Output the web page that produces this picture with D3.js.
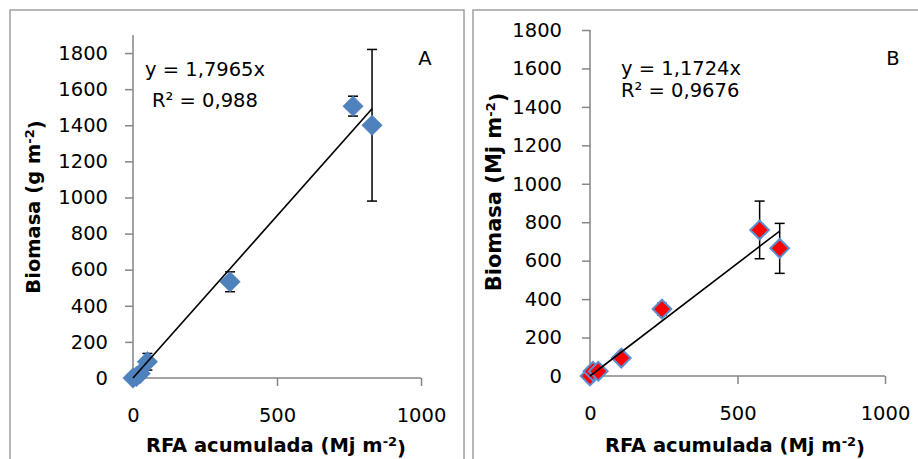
<!DOCTYPE html>
<html>
<head>
<meta charset="utf-8">
<script src="https://cdn.jsdelivr.net/npm/d3@7"></script>
<style>
  html, body { margin: 0; padding: 0; background: #fff; }
  svg { display: block; }
  text { font-family: "DejaVu Sans", sans-serif; fill: #000; }
</style>
</head>
<body>
<svg id="chart" width="918" height="459"></svg>
<script>
// ---- Data ----
const xTicks = [0, 500, 1000];
const yTicks = [0, 200, 400, 600, 800, 1000, 1200, 1400, 1600, 1800];

// Panel A
const rfaA = [0, 12, 25, 50, 337, 764, 830];
const biomasaA = [0, 8, 25, 90, 533, 1506, 1400];
const errA = [0, 0, 0, 46, 55, 55, 420];
const slopeA = 1.7965;
const eqA = "y = 1,7965x";
const r2A = "R² = 0,988";
const tagA = "A";
const yTitleA = "g m";

// Panel B
const rfaB = [0, 10, 28, 106, 244, 575, 643];
const biomasaB = [0, 25, 25, 93, 348, 760, 664];
const errB = [0, 0, 0, 0, 30, 150, 130];
const slopeB = 1.1724;
const eqB = "y = 1,1724x";
const r2B = "R² = 0,9676";
const tagB = "B";
const yTitleB = "Mj m";

const svg = d3.select("#chart");

// panel frames
svg.append("rect").attr("x", 10).attr("y", 10).attr("width", 454).attr("height", 470)
  .attr("fill", "none").attr("stroke", "#a0a0a0").attr("stroke-width", 1.5);
svg.append("rect").attr("x", 473).attr("y", 10).attr("width", 470).attr("height", 470)
  .attr("fill", "none").attr("stroke", "#a0a0a0").attr("stroke-width", 1.5);

function panel(cfg) {
  const g = svg.append("g");
  const x = d3.scaleLinear().domain([0, 1000]).range([cfg.x0, cfg.x1]);
  const y = d3.scaleLinear().domain([0, cfg.ymax]).range([cfg.y0, cfg.y1]);

  // axes
  const xAxis = d3.axisBottom(x).tickValues(xTicks).tickSize(8).tickPadding(cfg.xpad).tickFormat(d3.format("d"));
  const yAxis = d3.axisLeft(y).tickValues(yTicks).tickSize(8).tickPadding(cfg.ypad).tickFormat(d3.format("d"));
  const gx = g.append("g").attr("transform", `translate(0,${cfg.y0})`).call(xAxis);
  const gy = g.append("g").attr("transform", `translate(${cfg.x0},0)`).call(yAxis);
  [gx, gy].forEach(a => {
    a.select(".domain").attr("stroke", "#868686").attr("stroke-width", 1.5);
    a.selectAll(".tick line").attr("stroke", "#868686").attr("stroke-width", 1.5);
    a.selectAll(".tick text").style("font-family", "'DejaVu Sans', sans-serif").style("font-size", "19.5px").attr("fill", "#000");
  });
  gy.select(".domain").attr("d", `M0,${cfg.y1}V${cfg.y0}`);
  gx.select(".domain").attr("d", `M${cfg.x0},0H${cfg.x1}`);

  const pts = cfg.xs.map((v, i) => ({ x: v, y: cfg.ys[i], e: cfg.es[i] }));

  // error bars
  const eb = g.append("g").attr("stroke", "#000").attr("stroke-width", 1.5);
  pts.filter(p => p.e > 0).forEach(p => {
    const cx = x(p.x);
    eb.append("line").attr("x1", cx).attr("x2", cx).attr("y1", y(p.y - p.e)).attr("y2", y(p.y + p.e));
    eb.append("line").attr("x1", cx - 5).attr("x2", cx + 5).attr("y1", y(p.y - p.e)).attr("y2", y(p.y - p.e));
    eb.append("line").attr("x1", cx - 5).attr("x2", cx + 5).attr("y1", y(p.y + p.e)).attr("y2", y(p.y + p.e));
  });

  // markers (diamonds)
  const sym = d3.symbol(d3.symbolSquare, cfg.msize);
  g.append("g").selectAll("path").data(pts).join("path")
    .attr("d", sym)
    .attr("transform", d => `translate(${x(d.x)},${y(d.y)}) rotate(45)`)
    .attr("fill", cfg.fill)
    .attr("stroke", cfg.stroke)
    .attr("stroke-width", cfg.sw);

  // trend line
  const xmax = d3.max(cfg.xs);
  g.append("line")
    .attr("x1", x(0)).attr("y1", y(0))
    .attr("x2", x(xmax)).attr("y2", y(cfg.slope * xmax))
    .attr("stroke", "#000").attr("stroke-width", 1.6);

  // labels
  g.append("text").attr("x", cfg.eqX).attr("y", cfg.eqY).style("font-size", "19.5px").text(cfg.eq);
  g.append("text").attr("x", cfg.r2X).attr("y", cfg.r2Y).style("font-size", "19.5px").text(cfg.r2);
  g.append("text").attr("x", cfg.tagX).attr("y", cfg.tagY).attr("text-anchor", "middle").style("font-size", "19.5px").text(cfg.tag);

  // x title
  const xt = g.append("text").attr("x", cfg.xtX).attr("y", 452).attr("text-anchor", "middle")
    .style("font-size", "19.5px").style("font-weight", "bold");
  xt.append("tspan").text("RFA acumulada (Mj m");
  xt.append("tspan").attr("dy", "-0.45em").style("font-size", "13px").text("-2");
  xt.append("tspan").attr("dy", "0.45em").text(")");

  // y title
  const yt = g.append("text").attr("transform", `translate(${cfg.ytX},${cfg.ytY}) rotate(-90)`)
    .attr("text-anchor", "middle").style("font-size", cfg.ytSize).style("font-weight", "bold");
  yt.append("tspan").text("Biomasa (" + cfg.ytitle);
  yt.append("tspan").attr("dy", "-0.45em").style("font-size", "13px").text("-2");
  yt.append("tspan").attr("dy", "0.45em").text(")");
}

panel({
  x0: 133, x1: 421, y0: 378, y1: 35, ymax: 1900, ypad: 17, xpad: 22,
  xs: rfaA, ys: biomasaA, es: errA, slope: slopeA,
  fill: "#4f81bd", stroke: "#4f81bd", sw: 0.5, msize: 210,
  eq: eqA, eqX: 145, eqY: 76, r2: r2A, r2X: 152, r2Y: 107,
  tag: tagA, tagX: 425, tagY: 65,
  xtX: 276, ytX: 40, ytY: 207, ytitle: yTitleA, ytSize: "19.5px"
});

panel({
  x0: 590, x1: 885, y0: 376, y1: 30, ymax: 1800, ypad: 20, xpad: 22,
  xs: rfaB, ys: biomasaB, es: errB, slope: slopeB,
  fill: "#ff0000", stroke: "#5b8fd0", sw: 2, msize: 175,
  eq: eqB, eqX: 621, eqY: 75, r2: r2B, r2X: 621, r2Y: 97,
  tag: tagB, tagX: 893, tagY: 65,
  xtX: 735, ytX: 501, ytY: 192, ytitle: yTitleB, ytSize: "21px"
});
</script>
</body>
</html>
